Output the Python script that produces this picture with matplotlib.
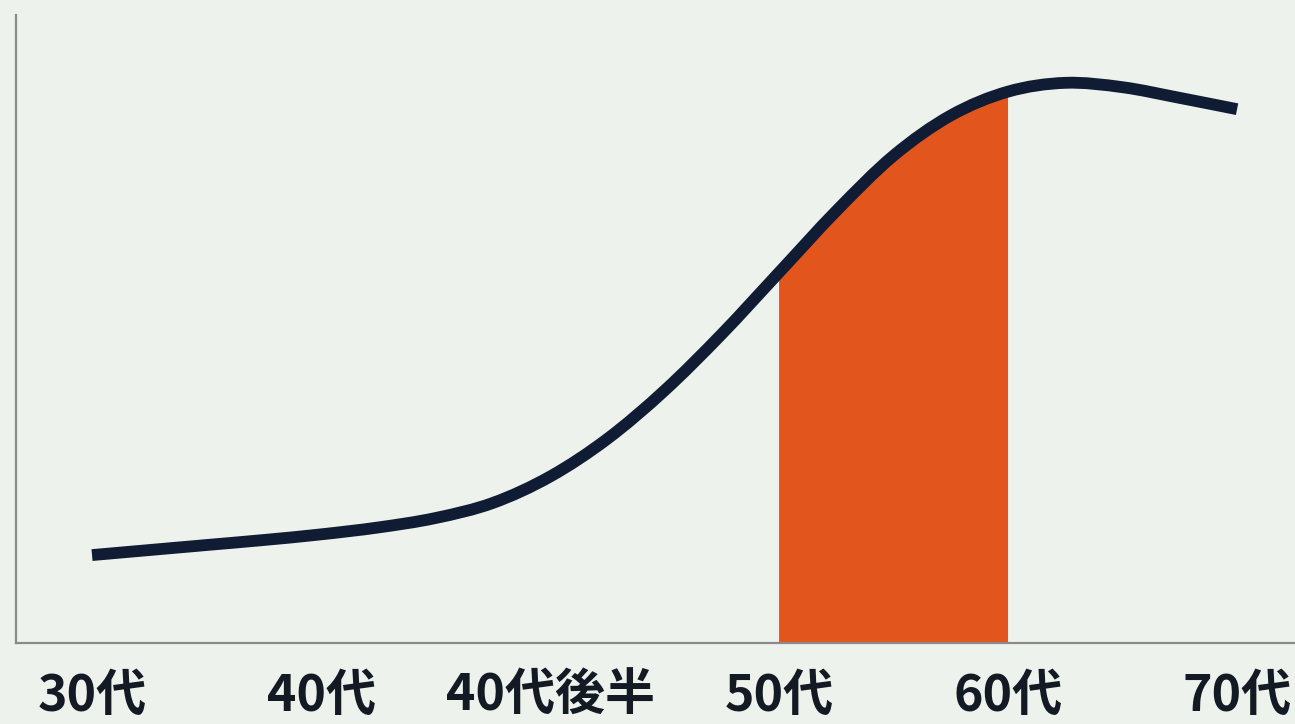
import matplotlib
matplotlib.use("Agg")
from matplotlib import pyplot as plt
from matplotlib.path import Path
from matplotlib.patches import PathPatch
import numpy as np

plt.rcParams['font.family'] = ['Noto Sans CJK JP', 'DejaVu Sans']

# age groups on the x axis
age_labels = ['30代', '40代', '40代後半', '50代', '60代', '70代']
age_pos = [0, 1, 2, 3, 4, 5]

# curve (x in age-group steps, y in 0..100)
curve_x = [0.0, 0.25, 0.5, 0.75, 1.0, 1.25, 1.5, 1.75, 2.0, 2.25, 2.5,
           2.75, 3.0, 3.25, 3.5, 3.75, 4.0, 4.25, 4.5, 4.75, 5.0]
curve_y = [14.0, 14.8, 15.6, 16.4, 17.3, 18.4, 19.9, 22.3, 26.5, 32.5, 40.2,
           49.2, 59.0, 68.8, 77.6, 84.0, 87.8, 89.2, 88.5, 86.8, 85.0]

# highlighted span (50代 -> 60代)
span_start, span_end = 3, 4

bg = '#EEF2EC'
navy = '#0F1C33'
orange = '#E2561E'


def bezier_pieces(pts, i_from, i_to):
    # catmull-rom through the points, as cubic bezier pieces
    ext = np.vstack([pts[0], pts, pts[-1]])
    verts = []
    for i in range(i_from + 1, i_to + 1):
        p0, p1, p2, p3 = ext[i - 1], ext[i], ext[i + 1], ext[i + 2]
        verts += [p1 + (p2 - p0) / 6.0, p2 - (p3 - p1) / 6.0, p2]
    return verts


fig = plt.figure(figsize=(12.95, 7.24), dpi=100)
fig.patch.set_facecolor(bg)
ax = fig.add_axes([16/1295, 81/724, 1 - 16/1295, 628/724])
ax.set_facecolor(bg)

pts = np.column_stack([curve_x, curve_y])

# the line
verts = bezier_pieces(pts, 0, len(pts) - 1)
line_path = Path([pts[0]] + verts, [Path.MOVETO] + [Path.CURVE4] * len(verts))
ax.add_patch(PathPatch(line_path, fill=False, edgecolor=navy, lw=8.5,
                       joinstyle='round', capstyle='butt', zorder=3))

# orange area under the curve between 50代 and 60代
i0 = curve_x.index(span_start)
i1 = curve_x.index(span_end)
fv = bezier_pieces(pts, i0, i1)
fverts = [(span_start, 0), pts[i0]] + fv + [(span_end, 0), (span_start, 0)]
fcodes = [Path.MOVETO, Path.LINETO] + [Path.CURVE4] * len(fv) + [Path.LINETO, Path.CLOSEPOLY]
ax.add_patch(PathPatch(Path(fverts, fcodes), facecolor=orange, lw=0, zorder=2))

ax.set_xlim(-0.332, 5.253)
ax.set_ylim(0, 100)

for s in ['top', 'right']:
    ax.spines[s].set_visible(False)
for s in ['left', 'bottom']:
    ax.spines[s].set_color('#8a8a8a')
    ax.spines[s].set_linewidth(1.6)

ax.set_yticks([])
ax.set_xticks(age_pos)
ax.set_xticklabels(age_labels, fontsize=36, fontweight='bold', color='#141a24')
ax.tick_params(axis='x', length=0, pad=20)

fig.savefig('out.png', dpi=100, facecolor=bg)
